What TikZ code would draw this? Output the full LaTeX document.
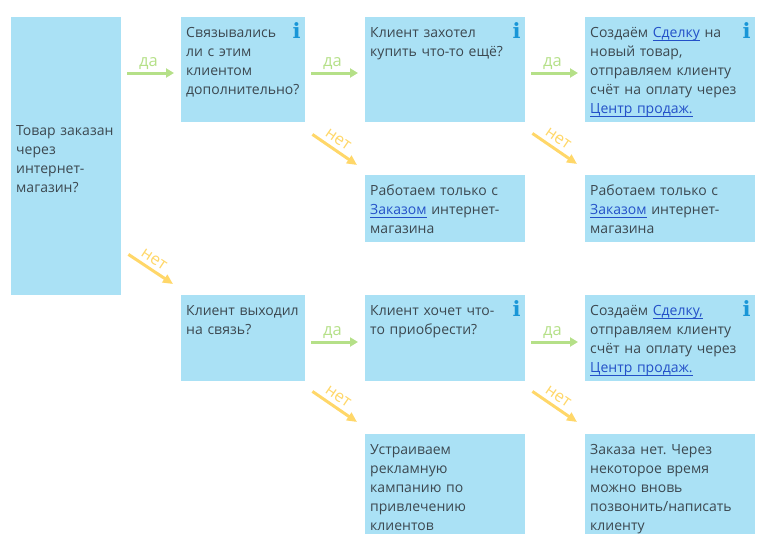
\documentclass[tikz,border=0pt]{standalone}
\usepackage{fontspec}
\setmainfont{Open Sans}
\newfontfamily\iconfont{DejaVu Serif}
\usetikzlibrary{arrows.meta}
\definecolor{boxblue}{RGB}{170,225,245}
\definecolor{txtgrey}{RGB}{60,72,80}
\definecolor{linkblue}{RGB}{35,80,200}
\definecolor{infoblue}{RGB}{25,150,215}
\definecolor{yesgreen}{RGB}{181,224,136}
\definecolor{nogold}{RGB}{255,215,105}
\newcommand{\lnk}[1]{\textcolor{linkblue}{\setbox0\hbox{#1}\rlap{\rule[-4pt]{\wd0}{0.8pt}}\box0}}

\begin{document}
\begin{tikzpicture}[x=1pt, y=-1pt, font=\frenchspacing\fontsize{14}{19}\selectfont,
	stepbox/.style n args={2}{anchor=north west, fill=boxblue, text=txtgrey, inner xsep=5pt, inner ysep=0pt,
		align=left, text width=#1pt-10pt, text height=20pt, text depth=#2pt-20pt},
	infomark/.style={anchor=north east, inner sep=0pt, text=infoblue, font=\iconfont\bfseries\fontsize{21}{21}\selectfont},
	yes/.style={draw=yesgreen, line width=3pt, -{Triangle[length=8pt,width=9pt]}},
	no/.style={draw=nogold, line width=3pt, -{Triangle[length=10pt,width=9pt]}},
	yeslabel/.style={pos=0.45, above, inner sep=2pt, text=yesgreen, font=\fontsize{16.5}{17}\selectfont},
	nolabel/.style={pos=0.45, above, sloped, inner sep=4pt, text=nogold, font=\fontsize{16.5}{17}\selectfont}]
	\useasboundingbox (0, 0) rectangle (761, 546);

	\node[stepbox={110}{278}, text height=118pt, text depth=160pt] (order) at (11, 17) {Товар заказан\\через\\интернет-\\магазин?};

	\node[stepbox={124}{105}] (contacted) at (181, 17) {Связывались\\ли с этим\\клиентом\\дополнительно?};
	\node[stepbox={160}{105}] (more) at (365, 17) {Клиент захотел\\купить что-то ещё?};
	\node[stepbox={170}{105}] (deal) at (585, 17) {Создаём \lnk{Сделку} на\\новый товар,\\отправляем клиенту\\счёт на оплату через\\\lnk{Центр продаж.}};
	\node[stepbox={160}{67}] (onlyone) at (365, 175) {Работаем только с\\\lnk{Заказом} интернет-\\магазина};
	\node[stepbox={170}{67}] (onlytwo) at (585, 175) {Работаем только с\\\lnk{Заказом} интернет-\\магазина};

	\node[stepbox={124}{86}] (called) at (181, 295) {Клиент выходил\\на связь?};
	\node[stepbox={160}{86}] (wants) at (365, 295) {Клиент хочет что-\\то приобрести?};
	\node[stepbox={170}{86}] (newdeal) at (585, 295) {Создаём \lnk{Сделку,}\\отправляем клиенту\\счёт на оплату через\\\lnk{Центр продаж.}};
	\node[stepbox={160}{100}] (promo) at (365, 434) {Устраиваем\\рекламную\\кампанию по\\привлечению\\клиентов};
	\node[stepbox={170}{100}] (noorder) at (585, 434) {Заказа нет. Через\\некоторое время\\можно вновь\\позвонить/написать\\клиенту};

	% значки в углу
	\foreach \name in {contacted,more,deal,wants,newdeal} {
		\node[infomark] (info\name) at ([shift={(-4.5,5.5)}]\name.north east) {i};
	}

	% стрелки да
	\foreach \from/\target/\dy in {order/contacted/56,contacted/more/56,more/deal/56,called/wants/47,wants/newdeal/47} {
		\coordinate (end\target) at ([shift={(-7,\dy)}]\target.north west);
		\draw[yes] (\from.east |- end\target) ++(6,0) -- (end\target) node[yeslabel] (da\target) {да};
	}

	% стрелки нет
	\foreach \from/\target/\sy/\ey in {order/called/-41/-11,contacted/onlyone/12/-10,more/onlytwo/11/-11,called/promo/10/-12,wants/noorder/10/-12} {
		\draw[no] ([shift={(7,\sy)}]\from.south east) -- ([shift={(-8,\ey)}]\target.north west) node[nolabel] (net\target) {нет};
	}
\end{tikzpicture}
\end{document}
